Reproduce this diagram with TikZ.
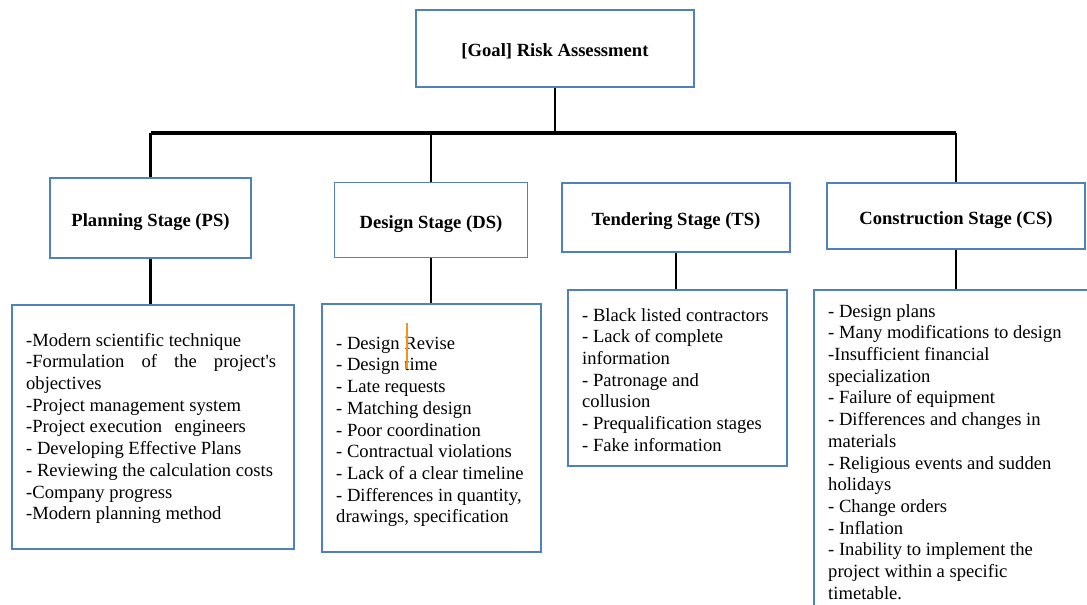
\documentclass[tikz,border=0pt]{standalone}
\usepackage{fontspec}
\setmainfont{Liberation Serif}
\definecolor{boxblue}{RGB}{79,129,189}
\definecolor{cursor}{RGB}{240,150,30}
\begin{document}
\begin{tikzpicture}[x=1pt,y=-1pt,
  box/.style={draw=boxblue, line width=1.8pt, fill=white, inner sep=0pt},
  title/.style={box, font=\fontsize{18.6}{21.7}\selectfont\bfseries, align=center,
                text height=18pt, text depth=2pt},
  listtext/.style={inner sep=0pt, font=\fontsize{18.6}{21.7}\selectfont, align=left},
  conn/.style={line width=2.6pt, black},
  trunk/.style={line width=3.8pt, black}]
\useasboundingbox (0,0) rectangle (1087,605);
\clip (0,0) rectangle (1087,605);
\fill[white] (0,0) rectangle (1087,605);

\coordinate (bar) at (555,133);

% title boxes
\node[title, minimum width=278, minimum height=77] (goal) at (555,48.5) {[Goal] Risk Assessment};
\node[title, minimum width=201, minimum height=80] (ps) at (150.5,218) {Planning Stage (PS)};
\node[title, minimum width=193, minimum height=75] (ds) at (431,220) {Design Stage (DS)};
\node[title, minimum width=228, minimum height=69] (ts) at (676,217.5) {Tendering Stage (TS)};
\node[title, minimum width=258, minimum height=66] (cs) at (956,216) {Construction Stage (CS)};

% list boxes
\node[box, anchor=north west, minimum width=282, minimum height=244] (psl) at (11,304) {};
\node[box, anchor=north west, minimum width=219, minimum height=248] (dsl) at (321,303) {};
\node[box, anchor=north west, minimum width=219, minimum height=176] (tsl) at (567,289) {};
\node[box, anchor=north west, minimum width=290, minimum height=330] (csl) at (813,289) {};

% list texts
\node[listtext, anchor=west] (pst) at ([xshift=15pt,yshift=-1.5pt]psl.west) {%
-Modern scientific technique\\
\makebox[250pt][s]{-Formulation of the project\textquotesingle s}\\
objectives\\
-Project management system\\
-Project execution\hspace{8pt} engineers\\
- Developing Effective Plans\\
- Reviewing the calculation costs\\
-Company progress\\
-Modern planning method};

\node[listtext, anchor=west] (dst) at ([xshift=15pt,yshift=-4pt]dsl.west) {%
- Design Revise\\
- Design time\\
- Late requests\\
- Matching design\\
- Poor coordination\\
- Contractual violations\\
- Lack of a clear timeline\\
- Differences in quantity,\\
drawings, specification};

\node[listtext, anchor=west] (tst) at ([xshift=15pt,yshift=-2pt]tsl.west) {%
- Black listed contractors\\
- Lack of complete\\
information\\
- Patronage and\\
collusion\\
- Prequalification stages\\
- Fake information};

\node[listtext, anchor=north west] (cst) at ([xshift=15pt,yshift=-15pt]csl.north west) {%
- Design plans\\
- Many modifications to design\\
-Insufficient financial\\
specialization\\
- Failure of equipment\\
- Differences and changes in\\
materials\\
- Religious events and sudden\\
holidays\\
- Change orders\\
- Inflation\\
- Inability to implement the\\
project within a specific\\
timetable.};

% connectors
\draw[conn] (goal.south) -- (goal.south |- bar);
\draw[trunk] (ps.north |- bar) -- (cs.north |- bar);
\draw[conn] (ps.north |- bar) -- (ps.north);
\draw[conn] (ds.north |- bar) -- (ds.north);
\draw[conn] (cs.north |- bar) -- (cs.north);
\draw[conn] (ps.south) -- (ps.south |- psl.north);
\draw[conn] (ds.south) -- (ds.south |- dsl.north);
\draw[conn] (ts.south) -- (ts.south |- tsl.north);
\draw[conn] (cs.south) -- (cs.south |- csl.north);

% text cursor mark
\draw[cursor, line width=1.3pt] (407,323) -- (407,369);
\end{tikzpicture}
\end{document}
